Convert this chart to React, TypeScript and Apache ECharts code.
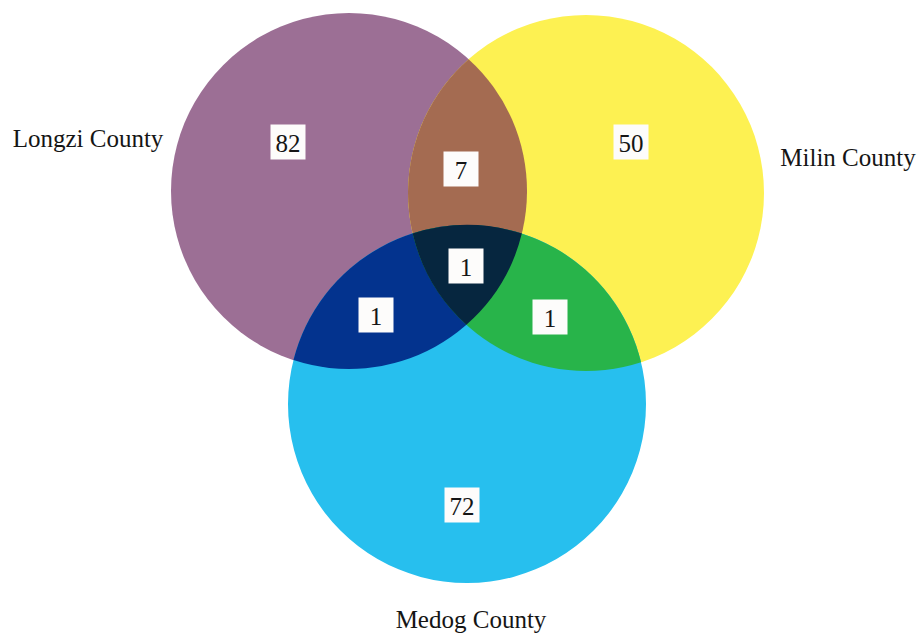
import React, { useEffect, useRef } from 'react';
import * as echarts from 'echarts';

// ---- data ----
const setNames = ['Longzi County', 'Milin County', 'Medog County'];
const regionNames = ['Longzi only', 'Milin only', 'Medog only', 'Longzi & Milin', 'Longzi & Medog', 'Milin & Medog', 'All three'];
const regionCounts = [82, 50, 72, 7, 1, 1, 1];
const regionSets = [[0], [1], [2], [0, 1], [0, 2], [1, 2], [0, 1, 2]];

// ---- layout (pixel space of the hidden axes) ----
const W = 922;
const H = 635;
const circleCenters = [[349, 191], [586, 193], [467, 404]];
const circleRadius = [178, 178, 179];
const setLabelPos = [[88, 138], [848, 157], [471, 619]];
const countLabelPos = [[288, 142], [631, 142], [462, 505], [461, 169], [466, 266], [376, 315], [550, 317]];
const countLabelOrder = [0, 1, 2, 3, 5, 6, 4];
const regionColors = ['#9C6F95', '#FDF152', '#27BFEE', '#A46B51', '#03338E', '#28B44A', '#06263F'];
const FONT = '"Liberation Serif", "Times New Roman", serif';

type P = [number, number];

function intersections(p1: P, r1: number, p2: P, r2: number): [P, P] {
  const dx = p2[0] - p1[0];
  const dy = p2[1] - p1[1];
  const d = Math.sqrt(dx * dx + dy * dy);
  const ux = dx / d, uy = dy / d;
  const nx = -uy, ny = ux;
  const a = (d * d + r1 * r1 - r2 * r2) / (2 * d);
  const h = Math.sqrt(Math.max(0, r1 * r1 - a * a));
  const mx = p1[0] + a * ux, my = p1[1] + a * uy;
  return [[mx - h * nx, my - h * ny], [mx + h * nx, my + h * ny]];
}

function inside(p: P, c: P, r: number) {
  const dx = p[0] - c[0], dy = p[1] - c[1];
  return dx * dx + dy * dy < r * r;
}

function lensPath(p1: P, r1: number, p2: P, r2: number) {
  const [i1, i2] = intersections(p1, r1, p2, r2);
  return `M${i1[0]},${i1[1]} A${r1},${r1} 0 0 1 ${i2[0]},${i2[1]} A${r2},${r2} 0 0 1 ${i1[0]},${i1[1]} Z`;
}

function triplePath(c: P[], r: number[]) {
  const pick = (a: number, b: number, o: number): P => {
    const pts = intersections(c[a], r[a], c[b], r[b]);
    return inside(pts[0], c[o], r[o]) ? pts[0] : pts[1];
  };
  const vBC = pick(1, 2, 0);
  const vAC = pick(0, 2, 1);
  const vAB = pick(0, 1, 2);
  return `M${vBC[0]},${vBC[1]} A${r[2]},${r[2]} 0 0 1 ${vAC[0]},${vAC[1]} A${r[0]},${r[0]} 0 0 1 ${vAB[0]},${vAB[1]} A${r[1]},${r[1]} 0 0 1 ${vBC[0]},${vBC[1]} Z`;
}

export default function App() {
  const ref = useRef<HTMLDivElement>(null);
  useEffect(() => {
    document.body.style.margin = '0';
    const chart = echarts.init(ref.current!, null, { renderer: 'svg' });
    const labelPosFor = (i: number) => countLabelPos[countLabelOrder.indexOf(i)];
    const option: any = {
      animation: false,
      backgroundColor: '#ffffff',
      grid: { left: 0, right: 0, top: 0, bottom: 0 },
      xAxis: { type: 'value', min: 0, max: W, show: false },
      yAxis: { type: 'value', min: 0, max: H, inverse: true, show: false },
      tooltip: { show: false },
      series: [
        {
          type: 'custom',
          name: 'regions',
          silent: true,
          data: regionNames.map((n, i) => ({ name: n, value: labelPosFor(i) })),
          renderItem: (params: any, api: any) => {
            const i = params.dataIndex;
            const c = circleCenters.map((p) => api.coord(p) as P);
            const r = circleRadius.map((v) => api.size([v, 0])[0] as number);
            const sets = regionSets[i];
            const fill = regionColors[i];
            if (sets.length === 1) {
              const k = sets[0];
              return { type: 'circle', shape: { cx: c[k][0], cy: c[k][1], r: r[k] }, style: { fill } };
            }
            if (sets.length === 2) {
              const [a, b] = sets;
              return { type: 'path', shape: { pathData: lensPath(c[a], r[a], c[b], r[b]) }, style: { fill } };
            }
            return { type: 'path', shape: { pathData: triplePath(c, r) }, style: { fill } };
          },
          z: 1,
        },
        {
          type: 'custom',
          name: 'counts',
          silent: true,
          data: regionCounts.map((v, i) => ({ name: regionNames[i], value: [...labelPosFor(i), v] })),
          renderItem: (params: any, api: any) => {
            const i = params.dataIndex;
            const p = api.coord([api.value(0), api.value(1)]);
            const bw = 35, bh = 35;
            return {
              type: 'group',
              children: [
                { type: 'rect', shape: { x: p[0] - bw / 2, y: p[1] - bh / 2, width: bw, height: bh }, style: { fill: '#FDFCFB' } },
                {
                  type: 'text',
                  style: {
                    text: String(regionCounts[i]),
                    x: p[0],
                    y: p[1] + 1,
                    textAlign: 'center',
                    textVerticalAlign: 'middle',
                    fill: '#151515',
                    font: `25px ${FONT}`,
                  },
                },
              ],
            };
          },
          z: 2,
        },
        {
          type: 'custom',
          name: 'sets',
          silent: true,
          data: setNames.map((n, i) => ({ name: n, value: setLabelPos[i] })),
          renderItem: (params: any, api: any) => {
            const i = params.dataIndex;
            const p = api.coord([api.value(0), api.value(1)]);
            return {
              type: 'text',
              style: {
                text: setNames[i],
                x: p[0],
                y: p[1],
                textAlign: 'center',
                textVerticalAlign: 'middle',
                fill: '#151515',
                font: `25px ${FONT}`,
              },
            };
          },
          z: 3,
        },
      ],
    };
    chart.setOption(option);
    return () => chart.dispose();
  }, []);
  return <div ref={ref} style={{ width: W, height: H, position: 'absolute', left: 0, top: 0 }} />;
}
